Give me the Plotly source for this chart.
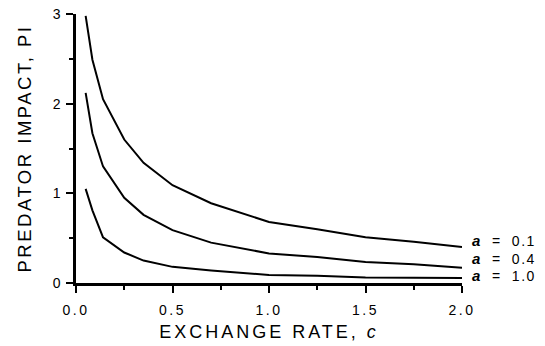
import plotly.graph_objects as go

# Exchange rate c (x) and predator impact PI (y) for three values of a
exchange_rate = [0.05, 0.085, 0.14, 0.25, 0.35, 0.5, 0.7, 1.0, 1.25, 1.5, 1.75, 2.0]
pi_a01 = [2.98, 2.49, 2.05, 1.60, 1.34, 1.09, 0.89, 0.68, 0.60, 0.51, 0.46, 0.40]
pi_a04 = [2.12, 1.67, 1.30, 0.95, 0.76, 0.59, 0.45, 0.33, 0.29, 0.235, 0.21, 0.17]
pi_a10 = [1.05, 0.81, 0.51, 0.34, 0.25, 0.18, 0.14, 0.09, 0.08, 0.06, 0.058, 0.056]

series = [("0.1", pi_a01, 0.47), ("0.4", pi_a04, 0.27), ("1.0", pi_a10, 0.085)]

x_ticks = [0.0, 0.5, 1.0, 1.5, 2.0]
x_tick_text = ["0.0", "0.5", "1.0", "1.5", "2.0"]
y_ticks = [0, 1, 2, 3]
y_tick_text = ["0", "1", "2", "3"]

FONT = "Liberation Sans, Arial, sans-serif"


def spaced(text, px):
    return f'<span style="letter-spacing:{px}px">{text}</span>'


fig = go.Figure()
for label, values, _ in series:
    fig.add_trace(go.Scatter(
        x=exchange_rate, y=values, mode="lines",
        line=dict(color="black", width=2),
        showlegend=False, name=f"a = {label}",
    ))

for label, _, ypos in series:
    fig.add_annotation(
        x=2.0, y=ypos, xref="x", yref="y",
        text=('<b><i><span style="font-size:15px">a</span></i></b>'
              "\u00a0\u00a0\u00a0=\u00a0\u00a0\u00a0" + spaced(label, 1.5)),
        showarrow=False, xanchor="left", yanchor="middle",
        xshift=8, font=dict(family=FONT, size=14, color="black"),
    )

fig.update_xaxes(
    range=[0, 2], tickvals=x_ticks,
    ticktext=[spaced(t, 2.5) for t in x_tick_text],
    ticks="outside", ticklen=7, tickwidth=2, tickcolor="black",
    showline=True, linewidth=2.5, linecolor="black",
    showgrid=False, zeroline=False, automargin=False,
    ticklabelstandoff=5,
    minor=dict(dtick=0.25, ticks="outside", ticklen=4, tickwidth=1.5, tickcolor="black"),
    tickfont=dict(family=FONT, size=14, color="black"),
    title=dict(text=spaced("EXCHANGE RATE, <i>c</i>", 3),
               font=dict(family=FONT, size=18, color="black"), standoff=9),
)
fig.update_yaxes(
    range=[0, 3], tickvals=y_ticks, ticktext=y_tick_text,
    ticks="outside", ticklen=7, tickwidth=2, tickcolor="black",
    showline=True, linewidth=2.5, linecolor="black",
    showgrid=False, zeroline=False, automargin=False,
    ticklabelstandoff=3,
    minor=dict(dtick=0.5, ticks="outside", ticklen=4, tickwidth=1.5, tickcolor="black"),
    tickfont=dict(family=FONT, size=14, color="black"),
    title=dict(text=spaced("PREDATOR IMPACT, PI", 2.5),
               font=dict(family=FONT, size=18.5, color="black"), standoff=17),
)

fig.update_layout(
    width=545, height=346,
    margin=dict(l=76, r=83, t=14, b=63),
    plot_bgcolor="white", paper_bgcolor="white",
)

fig.write_html("out.html")
